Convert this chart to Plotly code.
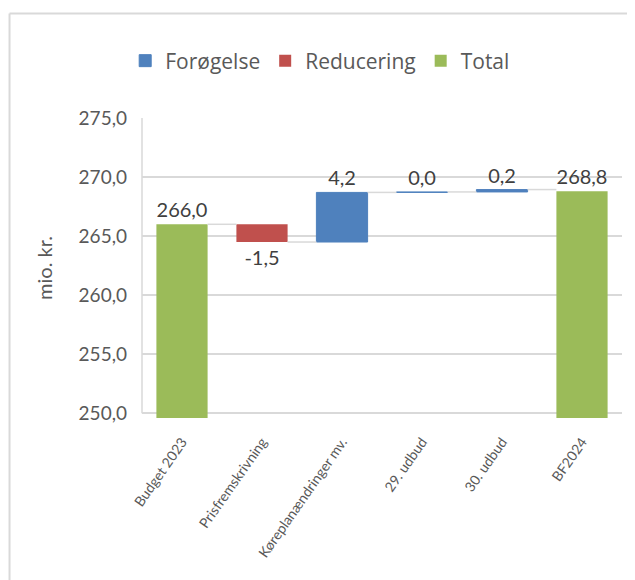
import plotly.graph_objects as go

categories = ['Budget 2023', 'Prisfremskrivning', 'Køreplanændringer mv.', '29. udbud', '30. udbud', 'BF2024']
changes = [None, -1.5, 4.2, 0.04, 0.2, None]
totals = [266.0, None, None, None, None, 268.8]

y_ticks = [250, 255, 260, 265, 270, 275]

BLUE = '#4F81BD'
RED = '#C0504D'
GREEN = '#9BBB59'
GRID = '#D9D9D9'
FONT = 'Lato'

# running levels for the floating bars
level = []
run = None
for t, c in zip(totals, changes):
    if t is not None:
        run = t
        level.append((t, t))
    else:
        start = run
        run = run + c
        level.append((start, run))

inc_x, inc_y, inc_b = [], [], []
dec_x, dec_y, dec_b = [], [], []
tot_x, tot_y = [], []
for cat, t, c, (start, end) in zip(categories, totals, changes, level):
    if t is not None:
        tot_x.append(cat)
        tot_y.append(t)
    elif c >= 0:
        inc_x.append(cat)
        inc_y.append(c)
        inc_b.append(start)
    else:
        dec_x.append(cat)
        dec_y.append(c)
        dec_b.append(start)

txt = dict(size=20, color='#404040', family=FONT)

fig = go.Figure()
fig.add_trace(go.Bar(name='Forøgelse', x=inc_x, y=inc_y, base=inc_b,
                     marker=dict(color=BLUE, line=dict(color=BLUE, width=1)),
                     texttemplate='%{y:.1f}', textposition='outside', textfont=txt,
                     cliponaxis=False))
fig.add_trace(go.Bar(name='Reducering', x=dec_x, y=dec_y, base=dec_b,
                     marker=dict(color=RED, line=dict(width=0)),
                     texttemplate='%{y:.1f}', textposition='outside', textfont=txt,
                     cliponaxis=False))
fig.add_trace(go.Bar(name='Total', x=tot_x, y=tot_y,
                     marker=dict(color=GREEN, line=dict(width=0)),
                     texttemplate='%{y:.1f}', textposition='outside', textfont=txt))

# connectors between bars
half = 0.32
shapes = []
for i in range(len(categories) - 1):
    lv = level[i][1]
    shapes.append(dict(type='line', xref='x', yref='y', x0=i + half, x1=i + 1 - half,
                       y0=lv, y1=lv, line=dict(color=GRID, width=1.5)))
# left axis line
shapes.append(dict(type='line', xref='paper', yref='y', x0=0, x1=0, y0=y_ticks[0], y1=y_ticks[-1],
                   line=dict(color=GRID, width=1.5)))
# card border
shapes.append(dict(type='line', xref='paper', yref='paper', x0=-0.276, x1=1.03, y0=1.348, y1=1.348,
                   line=dict(color='#D9D9D9', width=2)))
shapes.append(dict(type='line', xref='paper', yref='paper', x0=-0.276, x1=-0.276, y0=-0.6, y1=1.348,
                   line=dict(color='#D9D9D9', width=2)))

fig.update_layout(
    width=635, height=580,
    margin=dict(l=134, r=21, t=110, b=170, autoexpand=False),
    paper_bgcolor='white', plot_bgcolor='white',
    barmode='overlay', bargap=0.36,
    separators=',.',
    font=dict(family=FONT, color='#595959'),
    showlegend=True,
    legend=dict(orientation='h', x=-0.035, xanchor='left', y=1.19, yanchor='middle',
                font=dict(size=21, color='#595959', family='Open Sans'), itemwidth=30,
                traceorder='normal'),
    shapes=shapes,
)
fig.update_xaxes(categoryorder='array', categoryarray=categories,
                 tickangle=-55, tickfont=dict(size=14, color='#595959'), ticklabelstandoff=12,
                 showgrid=False, showline=False, ticks='', automargin=False)
fig.update_yaxes(range=[249.6, 275], tickvals=y_ticks, tickformat='.1f',
                 tickfont=dict(size=19, color='#595959'), ticklabelstandoff=14,
                 showgrid=True, gridcolor=GRID, gridwidth=1.5, zeroline=False, showline=False,
                 automargin=False,
                 title=dict(text='mio. kr.', font=dict(size=20, color='#595959'), standoff=20))

fig.write_html('out.html')
